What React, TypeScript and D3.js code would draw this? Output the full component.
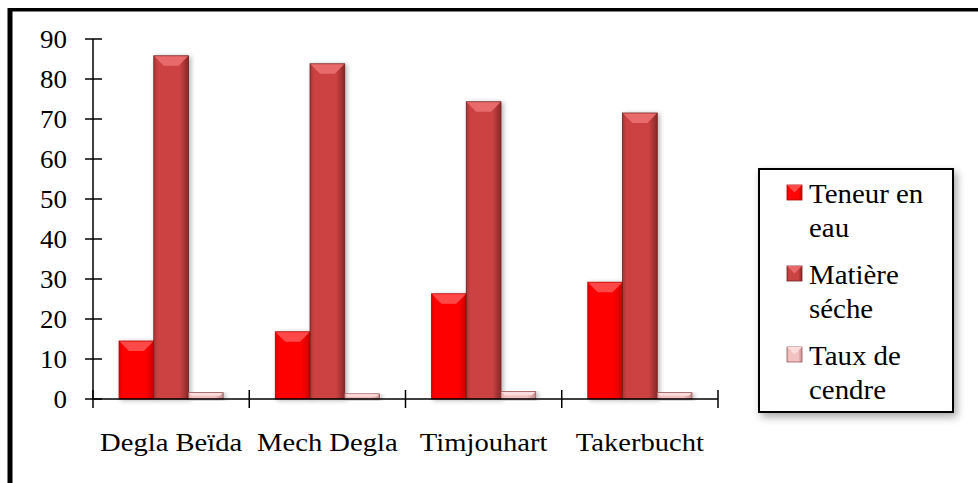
import React from "react";
import * as d3 from "d3";

const categories = ["Degla Beïda", "Mech Degla", "Timjouhart", "Takerbucht"];
const seriesNames = ["Teneur en eau", "Matière séche", "Taux de cendre"];
const legendLines = [["Teneur en", "eau"], ["Matière", "séche"], ["Taux de", "cendre"]];
const teneurEau = [14.5, 16.8, 26.3, 29.2];
const matiereSeche = [85.8, 83.8, 74.3, 71.5];
const tauxCendre = [1.6, 1.3, 1.9, 1.6];
const yTicks = [0, 10, 20, 30, 40, 50, 60, 70, 80, 90];

const seriesValues = [teneurEau, matiereSeche, tauxCendre];

// body gradient stops (edge, centre, edge) and bevel colour per series
const palettes = [
  { edgeL: "#e00000", mid: "#ff0606", edgeR: "#d00000", top: "#ff4a4a", stroke: "#b00000" },
  { edgeL: "#a83434", mid: "#cc4343", edgeR: "#882828", top: "#e86a6a", stroke: "#6e1e1e" },
  { edgeL: "#e0a8a8", mid: "#f2c2c2", edgeR: "#c48c8c", top: "#fbdcdc", stroke: "#9a5a5a" },
];

const W = 978;
const H = 483;
const plotLeft = 93;
const plotRight = 718;
const plotTop = 39;
const plotBottom = 399;

type LabelProps = { x: number; y: number; size: number; sx: number; anchor?: "start" | "middle" | "end"; children: React.ReactNode };

// text slightly widened horizontally around its anchor point
function Label({ x, y, size, sx, anchor = "start", children }: LabelProps) {
  return (
    <text
      transform={`translate(${x},${y}) scale(${sx},1)`}
      textAnchor={anchor}
      style={{ fontFamily: "Liberation Serif", fontSize: size }}
      fill="#000"
    >
      {children}
    </text>
  );
}

export default function App() {
  const x = d3.scaleBand<string>().domain(categories).range([plotLeft, plotRight]).paddingInner(0).paddingOuter(0);
  const y = d3.scaleLinear().domain([0, 90]).range([plotBottom, plotTop]);
  const band = x.bandwidth();
  const barW = band / 4.5;
  const groupOffset = (band - barW * 3) / 2;

  return (
    <svg width={W} height={H} style={{ position: "absolute", left: 0, top: 0, background: "#fff" }} xmlns="http://www.w3.org/2000/svg">
      <defs>
        {palettes.map((p, i) => (
          <linearGradient key={i} id={`body${i}`} x1="0" x2="1" y1="0" y2="0">
            <stop offset="0" stopColor={p.edgeL} />
            <stop offset="0.12" stopColor={p.mid} />
            <stop offset="0.75" stopColor={p.mid} />
            <stop offset="1" stopColor={p.edgeR} />
          </linearGradient>
        ))}
        <filter id="barShadow" x="-30%" y="-10%" width="160%" height="130%">
          <feGaussianBlur in="SourceAlpha" stdDeviation="2.5" />
          <feOffset dx="2" dy="1" result="b" />
          <feComponentTransfer><feFuncA type="linear" slope="0.3" /></feComponentTransfer>
          <feMerge><feMergeNode /><feMergeNode in="SourceGraphic" /></feMerge>
        </filter>
        <filter id="boxShadow" x="-20%" y="-20%" width="140%" height="140%">
          <feGaussianBlur in="SourceAlpha" stdDeviation="4" />
          <feOffset dx="3" dy="4" />
          <feComponentTransfer><feFuncA type="linear" slope="0.35" /></feComponentTransfer>
          <feMerge><feMergeNode /><feMergeNode in="SourceGraphic" /></feMerge>
        </filter>
      </defs>

      {/* outer frame */}
      <line x1={8} x2={W + 5} y1={9.75} y2={9.75} stroke="#000" strokeWidth={3.5} />
      <line x1={10} x2={10} y1={8} y2={H + 5} stroke="#000" strokeWidth={5} />

      {/* bars */}
      {categories.map((c, ci) => (
        <g key={c}>
          {seriesValues.map((vals, si) => {
            const p = palettes[si];
            const bx = (x(c) as number) + groupOffset + si * barW;
            const by = y(vals[ci]);
            const h = plotBottom - by;
            const bev = Math.min(10, h / 2, barW / 2);
            return (
              <g key={si} filter="url(#barShadow)">
                <rect x={bx} y={by} width={barW} height={h} fill={`url(#body${si})`} stroke={p.stroke} strokeWidth={0.8} />
                <path
                  d={`M${bx + 0.5},${by + 0.5} L${bx + barW - 0.5},${by + 0.5} L${bx + barW - bev},${by + bev} L${bx + bev},${by + bev} Z`}
                  fill={p.top}
                />
              </g>
            );
          })}
        </g>
      ))}

      {/* y axis */}
      <line x1={plotLeft} x2={plotLeft} y1={plotTop} y2={plotBottom} stroke="#000" strokeWidth={1.5} />
      {yTicks.map((t) => (
        <g key={t}>
          <line x1={plotLeft - 8} x2={plotLeft + 9} y1={y(t)} y2={y(t)} stroke="#000" strokeWidth={1.5} />
          <Label x={67} y={y(t) + 8.5} size={25} sx={1.08} anchor="end">
            {t}
          </Label>
        </g>
      ))}

      {/* x axis */}
      <line x1={plotLeft} x2={plotRight} y1={plotBottom} y2={plotBottom} stroke="#000" strokeWidth={1.5} />
      {[...categories.map((c) => x(c) as number), plotRight].map((tx, i) => (
        <line key={i} x1={tx} x2={tx} y1={plotBottom - 9} y2={plotBottom + 9} stroke="#000" strokeWidth={1.5} />
      ))}
      {categories.map((c) => (
        <Label key={c} x={(x(c) as number) + band / 2} y={451} size={26} sx={1.1} anchor="middle">
          {c}
        </Label>
      ))}

      {/* legend */}
      <g>
        <rect x={759} y={169} width={194} height={243} fill="#fff" stroke="#000" strokeWidth={2} filter="url(#boxShadow)" />
        {seriesNames.map((name, i) => {
          const top = 185 + i * 81;
          const p = palettes[i];
          const s = 15;
          const lx = 787;
          return (
            <g key={name}>
              <rect x={lx} y={top} width={s} height={s} fill={`url(#body${i})`} stroke={p.stroke} strokeWidth={0.8} />
              <path d={`M${lx},${top} L${lx + s},${top} L${lx + s / 2},${top + s / 2} Z`} fill={p.top} />
              {legendLines[i].map((ln, li) => (
                <Label key={li} x={809} y={top + 18 + li * 34} size={27} sx={1.07}>
                  {ln}
                </Label>
              ))}
            </g>
          );
        })}
      </g>
    </svg>
  );
}
